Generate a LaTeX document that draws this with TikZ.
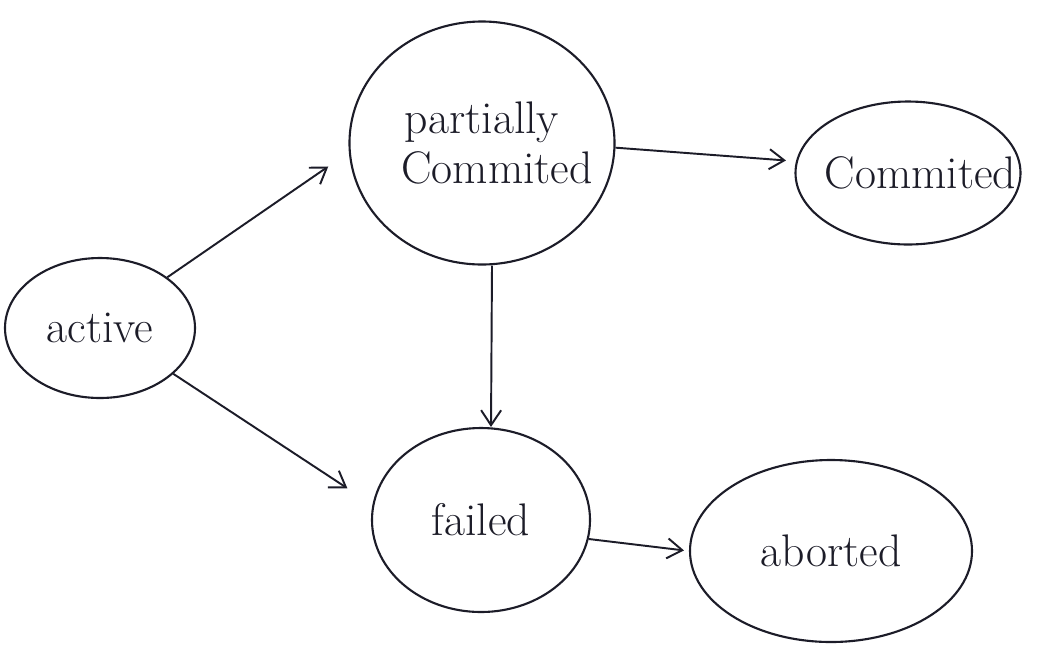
\documentclass[tikz,border=0pt]{standalone}
\usepackage{tikz}
\usetikzlibrary{arrows.meta,positioning,shapes.geometric}
\definecolor{ink}{HTML}{1C1C28}

\begin{document}
\begin{tikzpicture}[x=0.2mm, y=-0.2mm,
  state/.style={draw=ink, ellipse, line width=1.2pt, inner sep=0pt, align=center, text=ink, font=\fontsize{26}{30}\selectfont},
  arr/.style={-{Straight Barb[length=3mm,width=4mm]}, line width=1.1pt, draw=ink},
]
\useasboundingbox (0,0) rectangle (1042,657);
\fill[white] (0,0) rectangle (1042,657);
% states
\node[state, minimum width=38mm, minimum height=28mm] (active) at (100,328) {active};
\node[state, inner xsep=-5.5mm, minimum width=53mm, minimum height=48.6mm] (partial) at (482,143) {partially\\[-2pt]\hspace*{6mm}Commited};
\node[state, inner xsep=-7.5mm, minimum width=45mm, minimum height=28.6mm] (commit) at (908,173) {\hspace*{5mm}Commited};
\node[state, minimum width=43.6mm, minimum height=36.8mm] (failed) at (481,520) {failed};
\node[state, minimum width=56.4mm, minimum height=36.4mm] (abort) at (831,551) {aborted};
% transitions
\draw[arr, shorten >=5mm] (active.37) -- (partial.184);
\draw[arr, shorten >=6mm] (active.-32) -- (failed.172);
\draw[arr, shorten >=2mm] (partial.-2) -- (commit.174);
\draw[arr] ([xshift=2mm]partial.south) -- ([xshift=2mm]failed.north);
\draw[arr, shorten >=1mm] (failed.-10) -- (abort.west);
\end{tikzpicture}
\end{document}
